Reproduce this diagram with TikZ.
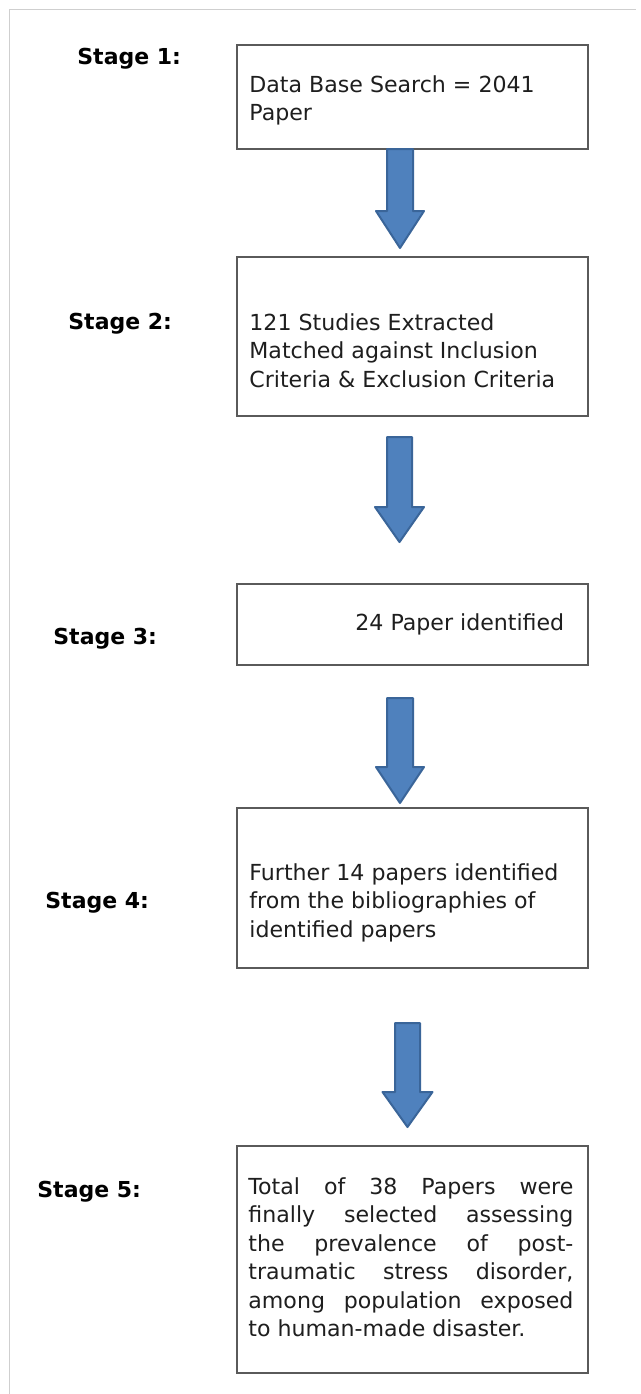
\documentclass[tikz,border=0pt]{standalone}
\usepackage{fontspec}
\setmainfont{DejaVu Sans}
\usetikzlibrary{calc}
\definecolor{arrowblue}{HTML}{4F81BD}
\definecolor{arrowedge}{HTML}{3A6599}
\definecolor{framegray}{HTML}{CFCFCF}
\definecolor{boxedge}{HTML}{5A5A5A}
\definecolor{textcol}{HTML}{1E1E1E}
\newcommand{\blockarrow}[5]{%
  \draw[barrow] ($(#1)+(-#3,0)$) -- ($(#1)+(#3,0)$) -- ($(#2)+(#3,-#5)$) -- ($(#2)+(#4,-#5)$) -- (#2)
    -- ($(#2)+(-#4,-#5)$) -- ($(#2)+(-#3,-#5)$) -- cycle;}
\begin{document}
\begin{tikzpicture}[x=0.5pt,y=-0.5pt]
\tikzset{
  box/.style={draw=boxedge, line width=0.8pt, fill=white, anchor=north west, inner sep=0pt,
    minimum width=175.5pt},
  txt/.style={anchor=north west, inner sep=0pt, align=left, text=textcol,
    font=\fontsize{11.05}{14.25}\selectfont},
  stagelbl/.style={anchor=base west, inner sep=0pt, text=black,
    font=\fontsize{11}{14.25}\selectfont\bfseries},
  barrow/.style={fill=arrowblue, draw=arrowedge, line width=1pt, line join=round},
}
\useasboundingbox (0,0) rectangle (641,1394);
\fill[white] (0,0) rectangle (641,1394);
% frame
\coordinate (fbl) at (9,1394);
\coordinate (ftl) at (9,9);
\coordinate (ftr) at (636,9);
\draw[framegray, line width=0.5pt] (fbl) -- (ftl) -- (ftr);

% boxes
\node[box, minimum height=52pt] (b1) at (236,44) {};
\node[box, minimum height=79.5pt] (b2) at (236,256) {};
\node[box, minimum height=40.5pt] (b3) at (236,583) {};
\node[box, minimum height=80pt] (b4) at (236,807) {};
\node[box, minimum height=113.5pt] (b5) at (236,1145) {};

% box texts (top = baseline - 19.95)
\node[txt] (t1) at (249,72) {\strut Data Base Search = 2041\\Paper};
\node[txt] (t2) at (249,310) {\strut 121 Studies Extracted\\Matched against Inclusion\\Criteria \& Exclusion Criteria};
\node[txt] (t3) at (355,610) {\strut 24 Paper identified};
\node[txt] (t4) at (249,860) {\strut Further 14 papers identified\\from the bibliographies of\\identified papers};
\node[txt] (t5) at (248,1174) {\strut\makebox[162.5pt][s]{Total of 38 Papers were}\\
  \makebox[162.5pt][s]{finally selected assessing}\\
  \makebox[162.5pt][s]{the prevalence of post-}\\
  \makebox[162.5pt][s]{traumatic stress disorder,}\\
  \makebox[162.5pt][s]{among population exposed}\\
  to human-made disaster.};

% stage labels
\node[stagelbl] (s1) at (77,64) {Stage 1:};
\node[stagelbl] (s2) at (68,329) {Stage 2:};
\node[stagelbl] (s3) at (53,644) {Stage 3:};
\node[stagelbl] (s4) at (45,908) {Stage 4:};
\node[stagelbl] (s5) at (37,1197) {Stage 5:};

% arrows
\coordinate (a1top) at (400,149);
\coordinate (a1tip) at (400,248);
\coordinate (a2top) at (399.5,437);
\coordinate (a2tip) at (399.5,542);
\coordinate (a3top) at (400,698);
\coordinate (a3tip) at (400,803);
\coordinate (a4top) at (407.5,1023);
\coordinate (a4tip) at (407.5,1127);
\blockarrow{a1top}{a1tip}{13}{24}{37}
\blockarrow{a2top}{a2tip}{12.5}{24.5}{35}
\blockarrow{a3top}{a3tip}{13}{24}{36}
\blockarrow{a4top}{a4tip}{12.5}{25}{35}
\end{tikzpicture}
\end{document}
